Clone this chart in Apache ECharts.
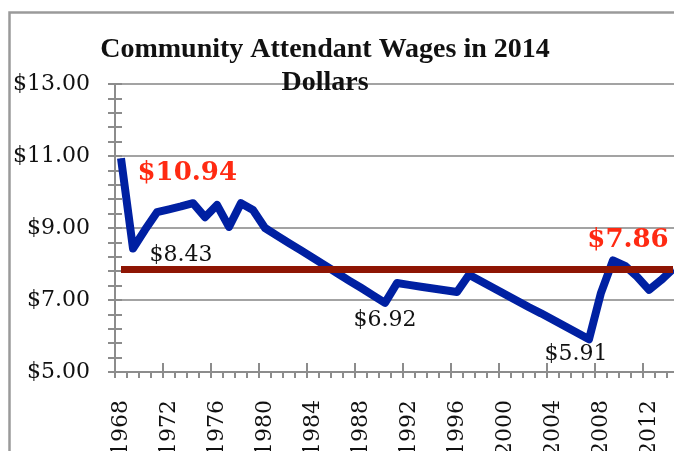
<!DOCTYPE html>
<html>
<head>
<meta charset="utf-8">
<script src="https://cdn.jsdelivr.net/npm/echarts@6/dist/echarts.min.js"></script>
<style>
  html, body { margin: 0; padding: 0; background: #fff; }
  #chart { width: 674px; height: 451px; }
</style>
</head>
<body>
<div id="chart"></div>
<script>
const years = [
  '1968', '1969', '1970', '1971', '1972', '1973', '1974', '1975', '1976', '1977',
  '1978', '1979', '1980', '1981', '1982', '1983', '1984', '1985', '1986', '1987',
  '1988', '1989', '1990', '1991', '1992', '1993', '1994', '1995', '1996', '1997',
  '1998', '1999', '2000', '2001', '2002', '2003', '2004', '2005', '2006', '2007',
  '2008', '2009', '2010', '2011', '2012', '2013', '2014'
]
const wages = [
  10.94, 8.43, 8.95, 9.44, 9.52, 9.6, 9.69, 9.3, 9.64, 9.03,
  9.69, 9.5, 9.0, 8.79, 8.58, 8.38, 8.17, 7.96, 7.75, 7.54,
  7.34, 7.13, 6.92, 7.47, 7.42, 7.37, 7.32, 7.27, 7.22, 7.7,
  7.52, 7.34, 7.16, 6.98, 6.8, 6.63, 6.45, 6.27, 6.09, 5.91,
  7.2, 8.1, 7.95, 7.65, 7.28, 7.55, 7.86
]
const currentWage = 7.86
const highlightYears = ['1968', '2014']
const yTicks = [5, 7, 9, 11, 13]

const BLUE = '#0020A2'
const DARK_RED = '#8E1503'
const RED_TEXT = '#FF2A12'
const GRID_GRAY = '#A3A3A3'
const AXIS_GRAY = '#8C8C8C'
const SERIF = '"DejaVu Serif", serif'

const money = (v) => '$' + Number(v).toFixed(2)

// label placement per labelled point
const labelPlacement = {
  '1968': { position: 'right', distance: 16, offset: [0, 15] },
  '1969': { position: 'right', distance: 16, offset: [0, 7] },
  '1990': { position: 'bottom', distance: 6, offset: [0, 0] },
  '2007': { position: 'bottom', distance: 4, offset: [-13, 0] },
  '2014': { position: 'top', distance: 15, offset: [-45, 0] },
}

const seriesData = wages.map((v, i) => {
  const year = years[i]
  const place = labelPlacement[year]
  if (!place) return v
  const big = highlightYears.includes(year)
  return {
    value: v,
    label: {
      show: true,
      ...place,
      formatter: (p) => money(p.value),
      fontFamily: SERIF,
      fontSize: big ? 26 : 22,
      fontWeight: big ? 'bold' : 'normal',
      color: big ? RED_TEXT : '#111',
    },
  }
})

const chart = echarts.init(document.getElementById('chart'))
chart.setOption({
  animation: false,
  title: {
    text: 'Community Attendant Wages in 2014\nDollars',
    left: 320,
    top: 28,
    textAlign: 'center',
    textStyle: {
      fontFamily: '"Liberation Serif", serif',
      fontWeight: 'bold',
      fontSize: 28,
      lineHeight: 33,
      color: '#111',
    },
  },
  graphic: [
    {
      type: 'rect',
      left: 7,
      top: 10,
      shape: { width: 720, height: 500 },
      style: { fill: 'none', stroke: '#9A9A9A', lineWidth: 2.5 },
      silent: true,
      z: -10,
    },
  ],
  grid: {
    left: 115,
    top: 84,
    width: 564,
    height: 288,
    outerBoundsMode: 'none',
    containLabel: false,
  },
  xAxis: [
    {
      type: 'category',
      data: years,
      position: 'bottom',
      boundaryGap: true,
      axisLine: { show: true, lineStyle: { color: AXIS_GRAY, width: 2 } },
      axisTick: { show: true, interval: 3, inside: true, length: 9, lineStyle: { color: AXIS_GRAY, width: 2 } },
      axisLabel: {
        interval: 3,
        rotate: 90,
        margin: 28,
        fontFamily: SERIF,
        fontSize: 22,
        color: '#111',
      },
      splitLine: { show: false },
    },
    {
      type: 'category',
      data: years,
      position: 'bottom',
      boundaryGap: true,
      axisLine: { show: false },
      axisTick: { show: true, interval: 0, length: 6, lineStyle: { color: AXIS_GRAY, width: 2 } },
      axisLabel: { show: false },
      splitLine: { show: false },
    },
  ],
  yAxis: [
    {
      type: 'value',
      position: 'left',
      min: yTicks[0],
      max: yTicks[yTicks.length - 1],
      interval: 2,
      axisLine: { show: true, lineStyle: { color: AXIS_GRAY, width: 2 } },
      axisTick: { show: true, length: 7, lineStyle: { color: AXIS_GRAY, width: 2 } },
      minorTick: { show: true, splitNumber: 5, length: 7, lineStyle: { color: AXIS_GRAY, width: 2 } },
      axisLabel: {
        margin: 25,
        formatter: money,
        fontFamily: SERIF,
        fontSize: 22,
        color: '#111',
      },
      splitLine: { show: true, lineStyle: { color: GRID_GRAY, width: 2 } },
    },
    {
      type: 'value',
      position: 'left',
      min: yTicks[0],
      max: yTicks[yTicks.length - 1],
      interval: 2,
      axisLine: { show: false },
      axisTick: { show: true, inside: true, length: 7, lineStyle: { color: AXIS_GRAY, width: 2 } },
      minorTick: { show: true, splitNumber: 5, length: 7, lineStyle: { color: AXIS_GRAY, width: 2 } },
      axisLabel: { show: false },
      splitLine: { show: false },
    },
  ],
  series: [
    {
      name: 'Wage',
      type: 'line',
      data: seriesData,
      symbol: 'circle',
      symbolSize: 1,
      showSymbol: true,
      itemStyle: { color: BLUE },
      lineStyle: { color: BLUE, width: 8, join: 'round' },
      markLine: {
        silent: true,
        symbol: 'none',
        label: { show: false },
        lineStyle: { color: DARK_RED, width: 7, type: 'solid' },
        data: [[
          { coord: [years[0], currentWage] },
          { coord: [years[years.length - 1], currentWage] },
        ]],
      },
    },
  ],
})
</script>
</body>
</html>
